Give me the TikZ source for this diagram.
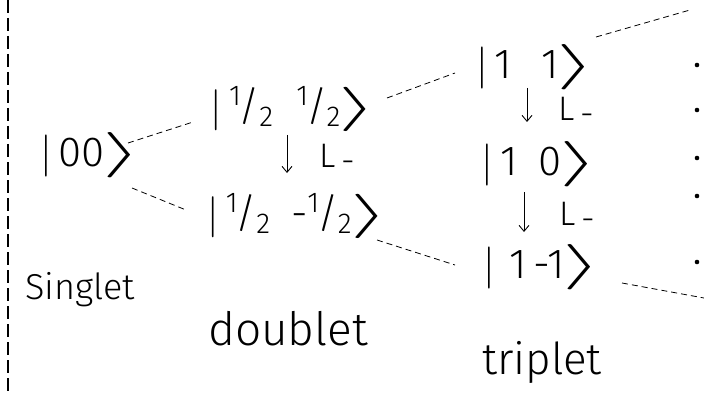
\RequirePackage{fix-cm}
\documentclass[tikz,border=0pt]{standalone}
\usepackage{fontspec}
\usepackage{graphicx}
\setmainfont{Fira Sans Light}
\usetikzlibrary{arrows.meta}

% ket pieces
\newcommand\kbar{$|$}
\newcommand\kclose{\kern-0.05em\scalebox{2.4}[1.08]{$\rangle$}}
\newcommand\half{\textsuperscript{1}\kern-0.06em/\kern-0.02em\textsubscript{2}}

\tikzset{
  ket/.style={inner sep=0pt, font=\fontsize{42}{48}\selectfont},
  smallket/.style={inner sep=0pt, font=\fontsize{41}{46}\selectfont},
  ladder/.style={line width=0.9pt, -{Straight Barb[length=6pt,width=10pt]}},
  opname/.style={inner sep=0pt, font=\fontsize{34}{38}\selectfont},
  branch/.style={line width=0.8pt, dash pattern=on 6pt off 4pt},
  border/.style={line width=1.2pt, dash pattern=on 13pt off 5pt},
  dot/.style={fill=black}
}

\begin{document}
\begin{tikzpicture}[x=1pt, y=-1pt]
\useasboundingbox (0,0) rectangle (704,393);

% left border
\draw[border] (8,0) -- (8,393);

% singlet
\node[ket] (s) at (91,155) {\kbar\,00\kclose};

% doublet
\node[smallket] (d1) at (294,109) {\kbar\,\half\hspace{0.55em}\half\kclose};
\node[smallket] (d2) at (298,216) {\kbar\,\half\hspace{0.5em}-\half\kclose};

% triplet
\node[ket] (t1) at (536,67)  {\kbar\,1\hspace{0.7em}1\kclose};
\node[ket] (t2) at (540,164) {\kbar\,1\hspace{0.5em}0\kclose};
\node[ket] (t3) at (543,267) {\kbar\,\,1\,-1\kclose};

% lowering operator steps
\draw[ladder] ([shift={(-7,26)}]d1.center) -- ([shift={(-11,-43)}]d2.center);
\node[opname] (l1) at (337,158) {L\,\raisebox{-0.14em}{-}};
\draw[ladder] ([shift={(-9,21)}]t1.center) -- ([shift={(-13,-42)}]t2.center);
\node[opname] (l2) at (576,111) {L\,\raisebox{-0.14em}{-}};
\draw[ladder] ([shift={(-16,28)}]t2.center) -- ([shift={(-19,-35)}]t3.center);
\node[opname] (l3) at (577,216) {L\,\raisebox{-0.14em}{-}};

% branches
\draw[branch] ([shift={(37,-12)}]s.center) -- ([shift={(-101,13)}]d1.center);
\draw[branch] ([shift={(41,33)}]s.center) -- ([shift={(-112,-6)}]d2.center);
\draw[branch] ([shift={(93,-11)}]d1.center) -- ([shift={(-81,6)}]t1.center);
\draw[branch] ([shift={(79,24)}]d2.center) -- ([shift={(-88,-2)}]t3.center);
\coordinate (e1) at (690,10);
\coordinate (e2) at (704,298);
\draw[branch] ([shift={(60,-30)}]t1.center) -- (e1);
\draw[branch] ([shift={(79,16)}]t3.center) -- (e2);

% continuation dots
\foreach \yy in {65,110,158,196,262}
  \fill[dot] (697,\yy) circle (2.3pt);

% multiplet names
\node[inner sep=0pt, font=\fontsize{36}{40}\selectfont] (n1) at (80,290)  {Singlet};
\node[inner sep=0pt, font=\fontsize{46}{50}\selectfont] (n2) at (288,329) {doublet};
\node[inner sep=0pt, font=\fontsize{44}{48}\selectfont] (n3) at (542,362) {triplet};
\end{tikzpicture}
\end{document}
